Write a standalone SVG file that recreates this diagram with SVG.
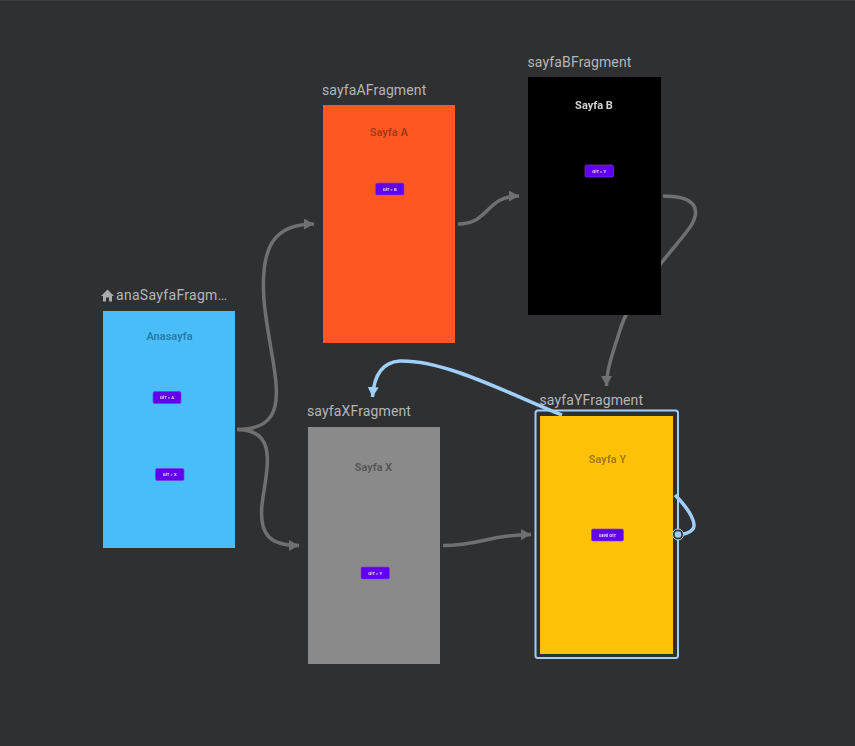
<svg xmlns="http://www.w3.org/2000/svg" width="855" height="746" viewBox="0 0 855 746">
<style>
.name{font:14px "Roboto","Liberation Sans",sans-serif;fill:#b4b6b8;letter-spacing:.13px}
.title{font:bold 11px "Roboto","Liberation Sans",sans-serif;text-anchor:middle;filter:url(#soft)}
.btn{fill:#6200ee;stroke:#7a3cf0;stroke-width:.6;filter:url(#soft)}
.btxt{font:bold 4.400px "Roboto","Liberation Sans",sans-serif;fill:#e4d6fb;text-anchor:middle;filter:url(#soft)}
.c{fill:none;stroke:#707070;stroke-width:3.500}
.s{fill:none;stroke:#9fd0fb;stroke-width:3.500}
</style>
<defs>
<filter id="soft" x="-20%" y="-40%" width="140%" height="180%"><feGaussianBlur stdDeviation="0.350"/></filter>
<marker id="ag" markerUnits="userSpaceOnUse" markerWidth="12" markerHeight="12" refX="10" refY="5.500" orient="auto"><path d="M0 0L10 5.500L0 11z" fill="#707070"/></marker>
<marker id="ab" markerUnits="userSpaceOnUse" markerWidth="12" markerHeight="12" refX="10" refY="5.500" orient="auto"><path d="M0 0L10 5.500L0 11z" fill="#9fd0fb"/></marker>
</defs>
<rect width="855" height="746" fill="#2f3032"/>
<rect width="855" height="1" fill="#3c3d3f"/>
<g id="connectors">
<path class="c" marker-end="url(#ag)" d="M237 429.500C300 429.500 270 370 264 300C260 245 275 224 314 224"/>
<path class="c" marker-end="url(#ag)" d="M237 429.500C280 429.500 266 470 262 505C259 535 270 545.500 299 545.500"/>
<path class="c" marker-end="url(#ag)" d="M458 224C490 224 485 196 519 196"/>
<path class="c" marker-end="url(#ag)" d="M443 545.500C480 545.500 490 534.500 531 534.500"/>
<path class="c" marker-end="url(#ag)" d="M663 196C690 196 702 205 692 224C684 239 632 290 620 330C614 350 606.500 368 606.500 386"/>
<path class="s" marker-end="url(#ab)" d="M562 415C505 392 445 360 400 361C382 362 374 375 372.500 397"/>
<path class="s" d="M675 495C690 510 698 525 692 530C688 534 684 534.500 678 534.500"/>
</g>
<g id="anaSayfaFragment">
<path d="M101 296L107.500 289.500L114 296H112V301.500H109V297.500H106V301.500H103V296z" fill="#a9abad"/>
<text class="name" x="116" y="300" style="letter-spacing:.3px">anaSayfaFragm…</text>
<rect x="103" y="311" width="132" height="237" fill="#48bdf7"/>
<text class="title" x="169.500" y="340" fill="#2a7da6">Anasayfa</text>
<rect class="btn" x="153" y="391.500" width="28" height="12" rx="1.500"/>
<text class="btxt" x="167" y="399">GİT &gt; A</text>
<rect class="btn" x="155.500" y="468.500" width="28.500" height="12" rx="1.500"/>
<text class="btxt" x="169.700" y="476">GİT &gt; X</text>
</g>
<g id="sayfaAFragment">
<text class="name" x="322" y="95">sayfaAFragment</text>
<rect x="323" y="105" width="132" height="238" fill="#ff5722"/>
<text class="title" x="389" y="136" fill="#a33a17">Sayfa A</text>
<rect class="btn" x="375.500" y="183" width="28.500" height="12" rx="1.500"/>
<text class="btxt" x="389.700" y="190.500">GİT &gt; B</text>
</g>
<g id="sayfaBFragment">
<text class="name" x="527.500" y="67">sayfaBFragment</text>
<rect x="528" y="77" width="133" height="238" fill="#000"/>
<text class="title" x="594" y="109" fill="#d2d2d2">Sayfa B</text>
<rect class="btn" x="585" y="165" width="28.500" height="12" rx="1.500"/>
<text class="btxt" x="599.200" y="172.500">GİT &gt; Y</text>
</g>
<g id="sayfaXFragment">
<text class="name" x="307" y="416">sayfaXFragment</text>
<rect x="308" y="427" width="132" height="237" fill="#8a8a8a"/>
<text class="title" x="373.500" y="471" fill="#575757">Sayfa X</text>
<rect class="btn" x="361" y="567" width="28.500" height="12" rx="1.500"/>
<text class="btxt" x="375.200" y="574.500">GİT &gt; Y</text>
</g>
<g id="sayfaYFragment">
<text class="name" x="539.500" y="405">sayfaYFragment</text>
<rect x="535.500" y="410.500" width="142.500" height="247.500" rx="2.500" fill="none" stroke="#9fd0fb" stroke-width="2"/>
<rect x="540" y="416" width="133" height="238" fill="#ffc107"/>
<text class="title" x="607.500" y="463" fill="#a37c0b">Sayfa Y</text>
<rect class="btn" x="591.500" y="529" width="32" height="12" rx="1.500"/>
<text class="btxt" x="607.500" y="536.500">GERİ GİT</text>
<circle cx="678" cy="534.500" r="5.500" fill="#2f3032" stroke="#c4d4e4" stroke-width="1"/>
<circle cx="678" cy="534.500" r="3.300" fill="#9fd0fb"/>
</g>
</svg>
